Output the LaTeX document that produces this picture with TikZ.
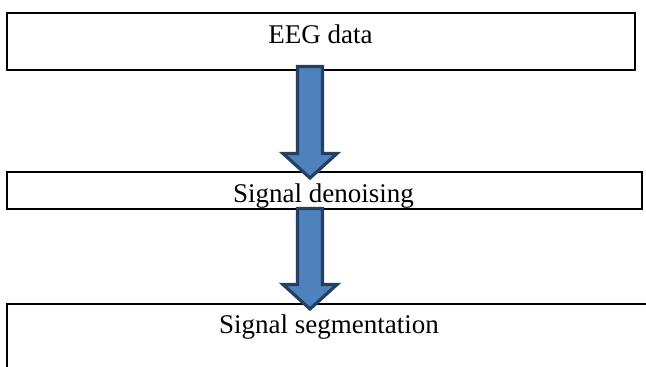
\documentclass[tikz,border=0pt]{standalone}
\usepackage{fontspec}
\setmainfont{Liberation Serif}
\usetikzlibrary{calc}
\definecolor{arrfill}{HTML}{4F81BD}
\definecolor{arrline}{HTML}{243F60}
\begin{document}
\begin{tikzpicture}[x=1pt,y=-1pt,
  stagebox/.style={draw=black,line width=2pt,fill=white,rectangle,inner sep=0pt,outer sep=0pt,anchor=north west},
  stagetext/.style={anchor=base,inner sep=0pt,font=\fontsize{27}{30}\selectfont},
  blockarrow/.style={draw=arrline,fill=arrfill,line width=3.2pt,line join=miter}]
\clip (0,0) rectangle (646,367);
\fill[white] (0,0) rectangle (646,367);
% boxes
\node[stagebox,minimum width=628pt,minimum height=57pt] (box1) at (7,13) {};
\node[stagebox,minimum width=635pt,minimum height=37pt] (box2) at (7,172) {};
\node[stagebox,minimum width=673pt,minimum height=96pt] (box3) at (7,304) {};
% texts
\node[stagetext] (t1) at (320.5,43) {EEG data};
\node[stagetext] (t2) at (323.5,202) {Signal denoising};
\node[stagetext] (t3) at (329,333) {Signal segmentation};
% arrow 1: from box1 to box2
\coordinate (s1) at ($(box1.south west)+(303,-3.5)$);
\coordinate (p1) at ($(box2.north west)+(303,6)$);
\coordinate (h1) at ($(p1)+(0,-24.5)$);
\draw[blockarrow] ($(s1)+(-12.5,0)$) -- ($(h1)+(-12.5,0)$) -- ($(h1)+(-27,0)$) -- (p1)
  -- ($(h1)+(27,0)$) -- ($(h1)+(12.5,0)$) -- ($(s1)+(12.5,0)$) -- cycle;
% arrow 2: from box2 to box3
\coordinate (s2) at ($(box2.south west)+(303,-0.5)$);
\coordinate (p2) at ($(box3.north west)+(303,5)$);
\coordinate (h2) at ($(p2)+(0,-24.5)$);
\draw[blockarrow] ($(s2)+(-12.5,0)$) -- ($(h2)+(-12.5,0)$) -- ($(h2)+(-27,0)$) -- (p2)
  -- ($(h2)+(27,0)$) -- ($(h2)+(12.5,0)$) -- ($(s2)+(12.5,0)$) -- cycle;
\end{tikzpicture}
\end{document}
